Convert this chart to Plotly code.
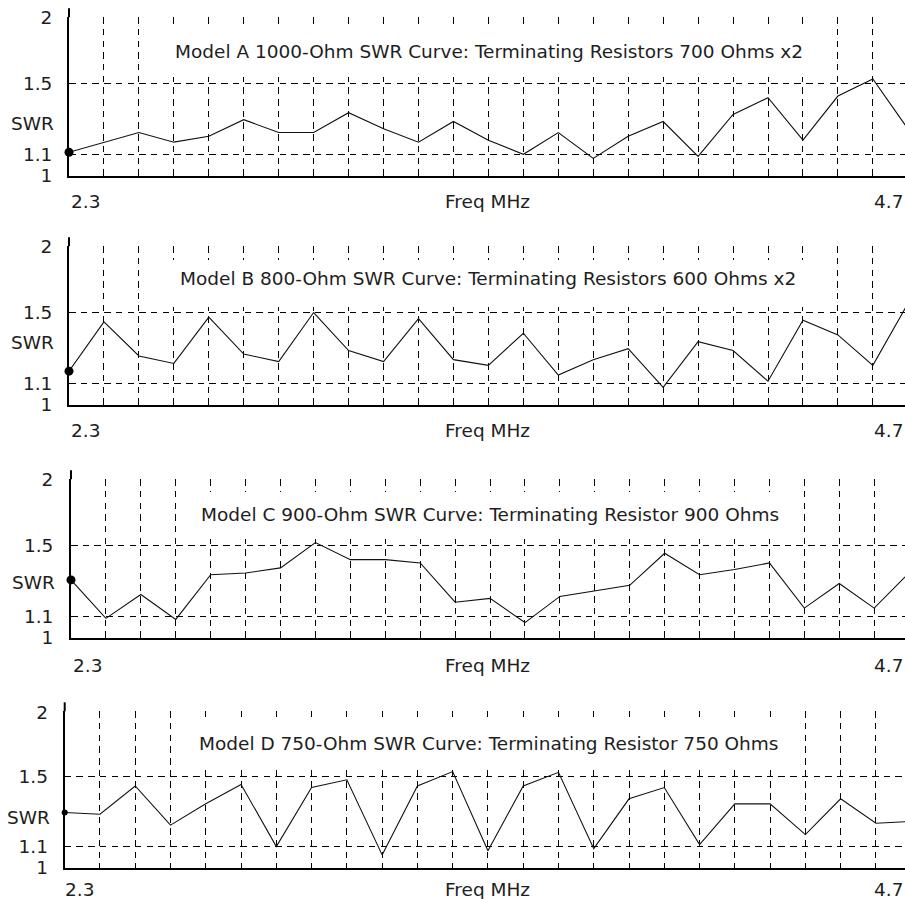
import math
import plotly.graph_objects as go

# ---------------- data ----------------
freq_mhz = [2.3, 2.4, 2.5, 2.6, 2.7, 2.8, 2.9, 3.0, 3.1, 3.2, 3.3, 3.4, 3.5,
            3.6, 3.7, 3.8, 3.9, 4.0, 4.1, 4.2, 4.3, 4.4, 4.5, 4.6, 4.7]

swr_model_a = [1.11, 1.16, 1.21, 1.16, 1.19, 1.28, 1.21, 1.21, 1.32, 1.23, 1.16, 1.27, 1.17,
               1.10, 1.21, 1.08, 1.19, 1.27, 1.09, 1.31, 1.41, 1.17, 1.42, 1.53, 1.23]
swr_model_b = [1.16, 1.44, 1.24, 1.20, 1.47, 1.25, 1.21, 1.50, 1.27, 1.21, 1.46, 1.22, 1.19,
               1.37, 1.14, 1.22, 1.28, 1.08, 1.32, 1.27, 1.11, 1.45, 1.36, 1.19, 1.56]
swr_model_c = [1.29, 1.09, 1.21, 1.085, 1.32, 1.33, 1.36, 1.52, 1.41, 1.41, 1.39, 1.17, 1.19,
               1.07, 1.20, 1.23, 1.26, 1.45, 1.32, 1.35, 1.39, 1.14, 1.27, 1.14, 1.33]
swr_model_d = [1.28, 1.27, 1.44, 1.21, 1.33, 1.45, 1.10, 1.43, 1.48, 1.06, 1.44, 1.535, 1.08,
               1.44, 1.53, 1.09, 1.36, 1.43, 1.11, 1.33, 1.33, 1.16, 1.36, 1.22, 1.23]

titles = [
    "Model A 1000-Ohm SWR Curve: Terminating Resistors 700 Ohms x2",
    "Model B 800-Ohm SWR Curve: Terminating Resistors 600 Ohms x2",
    "Model C 900-Ohm SWR Curve: Terminating Resistor 900 Ohms",
    "Model D 750-Ohm SWR Curve: Terminating Resistor 750 Ohms",
]
y_tick_vals = [1, 1.1, 1.5, 2]
y_tick_text = ["1", "1.1", "1.5", "2"]
x_label_left = "2.3"
x_label_right = "4.7"
x_title = "Freq MHz"
y_title = "SWR"

series = [swr_model_a, swr_model_b, swr_model_c, swr_model_d]

# ---------------- layout geometry (pixels) ----------------
W, H = 905, 899
FONT = "DejaVu Sans"
FS = 18.5
TXT = "#1e1e1e"
geo = [
    dict(ax=69, ppm=349.5, y1=176, ppd=525, lab_y=201, swr_y=123, tl=56, tcx=489, ty=52,
         bx0=159, bx1=819, by0=28, by1=77, dot=9, lab23=69, lab47=872),
    dict(ax=69, ppm=349.5, y1=405, ppd=525, lab_y=430, swr_y=343, tl=56, tcx=487.5, ty=279,
         bx0=160, bx1=815, by0=260, by1=307, dot=9, lab23=69, lab47=872),
    dict(ax=71, ppm=349.2, y1=638, ppd=525, lab_y=665, swr_y=582, tl=57, tcx=490, ty=514,
         bx0=190, bx1=790, by0=492, by1=539, dot=9, lab23=71, lab47=872),
    dict(ax=64.7, ppm=352.7, y1=868, ppd=518, lab_y=889, swr_y=817, tl=52, tcx=488.5, ty=743,
         bx0=188, bx1=789, by0=717, by1=768, dot=6, lab23=63, lab47=872),
]


def pxx(p):
    return p / W


def pxy(p):
    return 1 - p / H


fig = go.Figure()
annotations = []
shapes = []
top_log = math.log10(2) + 0.0015

for i, (vals, g, title) in enumerate(zip(series, geo, titles)):
    n = "" if i == 0 else str(i + 1)
    xref, yref = "x" + n, "y" + n
    x_hi = freq_mhz[0] + (W - g["ax"]) / g["ppm"]
    dom_h = g["ppd"] * top_log
    ydom = [pxy(g["y1"]), pxy(g["y1"] - dom_h)]

    fig.add_trace(go.Scatter(x=freq_mhz, y=vals, mode="lines", xaxis=xref, yaxis=yref,
                             line=dict(color="#111111", width=1.1), showlegend=False,
                             hoverinfo="skip"))
    fig.add_trace(go.Scatter(x=freq_mhz[:1], y=vals[:1], mode="markers", xaxis=xref, yaxis=yref,
                             marker=dict(color="black", size=g["dot"]), cliponaxis=False,
                             showlegend=False, hoverinfo="skip"))

    fig.layout["xaxis" + n] = dict(
        domain=[pxx(g["ax"]), 1], range=[freq_mhz[0], x_hi], anchor=yref,
        tick0=freq_mhz[0], dtick=0.1, showticklabels=False, ticks="", automargin=False,
        showgrid=True, gridcolor="black", gridwidth=1, griddash="6.5px,5.2px",
        showline=True, linecolor="black", linewidth=2, zeroline=False, fixedrange=True,
    )
    fig.layout["yaxis" + n] = dict(
        domain=ydom, type="log", range=[0, top_log], anchor=xref, automargin=False,
        tickmode="array", tickvals=y_tick_vals, ticktext=y_tick_text, ticks="",
        ticklabelstandoff=int(round(g["ax"] - g["tl"] - 2)),
        tickfont=dict(family=FONT, size=FS, color=TXT),
        showgrid=True, gridcolor="black", gridwidth=1, griddash="6.5px,5.2px",
        showline=True, linecolor="black", linewidth=2, zeroline=False, fixedrange=True,
    )

    # white box behind the title, hiding the gridlines there
    shapes.append(dict(type="rect", xref="paper", yref="paper", layer="above",
                       x0=pxx(g["bx0"]), x1=pxx(g["bx1"]), y0=pxy(g["by1"]), y1=pxy(g["by0"]),
                       fillcolor="white", line=dict(width=0)))
    # y-axis line extends a little above the top gridline
    shapes.append(dict(type="line", xref="paper", yref="paper",
                       x0=pxx(g["ax"]), x1=pxx(g["ax"]),
                       y0=ydom[1], y1=ydom[1] + 9 / H, line=dict(color="black", width=2)))

    fnt = dict(family=FONT, size=FS, color=TXT)
    annotations += [
        dict(text=title, xref="paper", yref="paper", x=pxx(g["tcx"]), y=pxy(g["ty"]),
             xanchor="center", yanchor="middle", showarrow=False, font=fnt),
        dict(text=y_title, xref="paper", yref="paper", x=pxx(g["tl"]), y=pxy(g["swr_y"]),
             xanchor="right", yanchor="middle", showarrow=False, font=fnt),
        dict(text=x_label_left, xref="paper", yref="paper", x=pxx(g["lab23"]), y=pxy(g["lab_y"]),
             xanchor="left", yanchor="middle", showarrow=False, font=fnt),
        dict(text=x_title, xref="paper", yref="paper", x=pxx(487), y=pxy(g["lab_y"]),
             xanchor="center", yanchor="middle", showarrow=False, font=fnt),
        dict(text=x_label_right, xref="paper", yref="paper", x=pxx(g["lab47"]), y=pxy(g["lab_y"]),
             xanchor="left", yanchor="middle", showarrow=False, font=fnt),
    ]

fig.update_layout(
    template="none",
    width=W, height=H, margin=dict(l=0, r=0, t=0, b=0, pad=0, autoexpand=False),
    paper_bgcolor="white", plot_bgcolor="white",
    annotations=annotations, shapes=shapes, showlegend=False,
    font=dict(family=FONT, size=FS, color=TXT),
)

fig.write_html(
    "out.html",
    config={"displayModeBar": False},
    post_script="document.body.style.margin='0';document.body.style.overflow='hidden';",
)
